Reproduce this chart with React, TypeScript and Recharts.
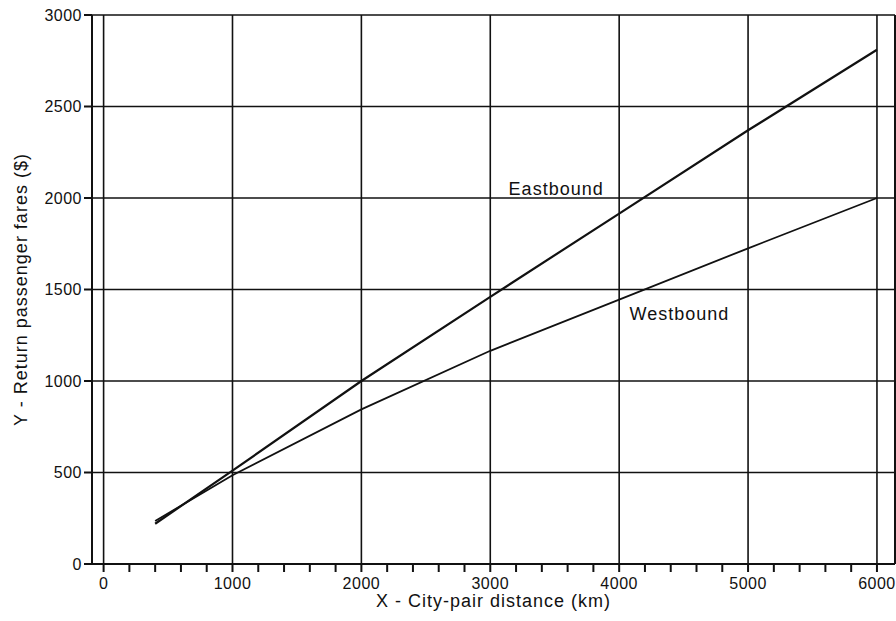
import React from 'react';
import {
  LineChart,
  Line,
  XAxis,
  YAxis,
  CartesianGrid,
  ReferenceLine,
  ReferenceDot,
  Label,
} from 'recharts';

const distanceKm = [400, 1000, 2000, 3000, 4000, 5000, 6000];
const eastboundFare = [220, 510, 1000, 1460, 1915, 2370, 2810];
const westboundFare = [235, 485, 845, 1165, 1445, 1725, 2000];

const xTicks = [
  0, 200, 400, 600, 800, 1000, 1200, 1400, 1600, 1800, 2000, 2200, 2400, 2600,
  2800, 3000, 3200, 3400, 3600, 3800, 4000, 4200, 4400, 4600, 4800, 5000, 5200,
  5400, 5600, 5800, 6000,
];
const xLabels = [0, 1000, 2000, 3000, 4000, 5000, 6000];
const yTicks = [0, 500, 1000, 1500, 2000, 2500, 3000];

const X_MIN = -90;
const X_MAX = 6140;

const FONT = '"Liberation Sans", Arial, Helvetica, sans-serif';
const INK = '#111';

const data = distanceKm.map((d, i) => ({
  distance: d,
  eastbound: eastboundFare[i],
  westbound: westboundFare[i],
}));

const XTick = (props: any) => {
  const { x, y, payload } = props;
  if (!xLabels.includes(payload.value)) return null;
  return (
    <text
      x={x}
      y={y}
      dy={12}
      textAnchor="middle"
      fontFamily={FONT}
      fontSize={16}
      letterSpacing={0.5}
      fill={INK}
    >
      {payload.value}
    </text>
  );
};

const curveLabel = (text: string, anchor: 'start' | 'end') => (props: any) => {
  const vb = props.viewBox || {};
  return (
    <text
      x={vb.x}
      y={vb.y}
      textAnchor={anchor}
      fontFamily={FONT}
      fontSize={18}
      letterSpacing={1}
      fill={INK}
    >
      {text}
    </text>
  );
};

const YTitle = (props: any) => {
  const vb = props.viewBox || {};
  const cx = 27;
  const cy = vb.y + vb.height / 2;
  return (
    <text
      x={cx}
      y={cy}
      transform={`rotate(-90, ${cx}, ${cy})`}
      textAnchor="middle"
      fontFamily={FONT}
      fontSize={18}
      letterSpacing={1}
      fill={INK}
    >
      Y - Return passenger fares ($)
    </text>
  );
};

export default function App() {
  return (
    <div style={{ position: 'absolute', left: 0, top: 0, background: '#fff' }}>
      <LineChart
        width={896}
        height={621}
        data={data}
        margin={{ top: 15, right: 1, bottom: 0, left: 0 }}
      >
        <CartesianGrid vertical={false} stroke={INK} strokeWidth={1.6} />
        {xLabels.map((v) => (
          <ReferenceLine key={v} x={v} stroke={INK} strokeWidth={1.6} />
        ))}
        <ReferenceLine x={X_MAX} stroke={INK} strokeWidth={2} />
        <XAxis
          dataKey="distance"
          type="number"
          domain={[X_MIN, X_MAX]}
          ticks={xTicks}
          interval={0}
          height={57}
          tickSize={8}
          tickMargin={5}
          stroke={INK}
          strokeWidth={2}
          tick={<XTick />}
          allowDataOverflow
        >
          <Label
            value="X - City-pair distance (km)"
            position="insideBottom"
            offset={14}
            fontFamily={FONT}
            fontSize={18}
            letterSpacing={1}
            fill={INK}
          />
        </XAxis>
        <YAxis
          type="number"
          domain={[0, 3000]}
          ticks={yTicks}
          interval={0}
          width={92}
          tickSize={8}
          tickMargin={2}
          stroke={INK}
          strokeWidth={2}
          tick={{ fontFamily: FONT, fontSize: 16, letterSpacing: 0.5, fill: INK }}
        >
          <Label content={<YTitle />} />
        </YAxis>
        <Line
          dataKey="eastbound"
          stroke={INK}
          strokeWidth={2.2}
          dot={false}
          isAnimationActive={false}
        />
        <Line
          dataKey="westbound"
          stroke={INK}
          strokeWidth={1.8}
          dot={false}
          isAnimationActive={false}
        />
        <ReferenceDot
          x={3880}
          y={2016}
          r={0}
          fill="none"
          stroke="none"
          label={curveLabel('Eastbound', 'end')}
        />
        <ReferenceDot
          x={4080}
          y={1333}
          r={0}
          fill="none"
          stroke="none"
          label={curveLabel('Westbound', 'start')}
        />
      </LineChart>
    </div>
  );
}
